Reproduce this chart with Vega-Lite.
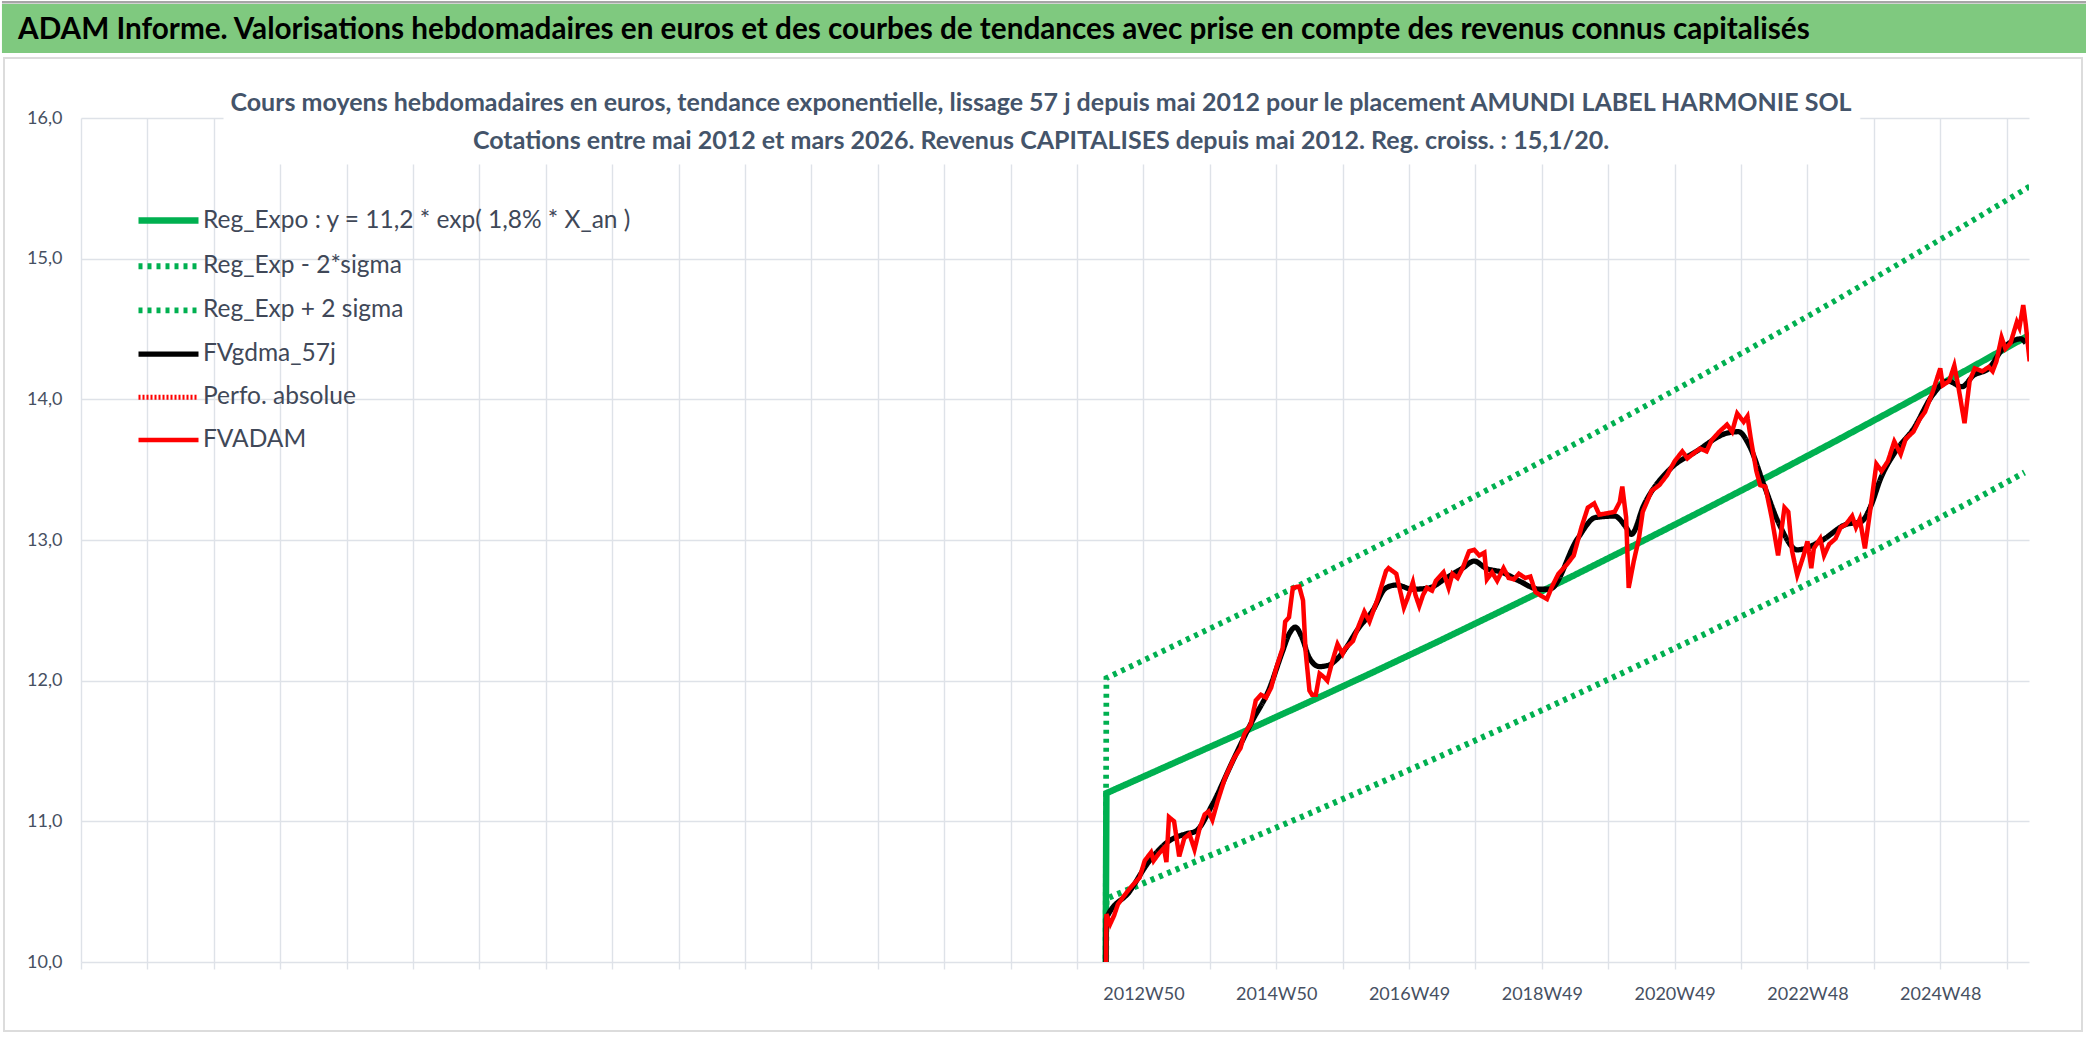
{
  "$schema": "https://vega.github.io/schema/vega-lite/v6.json",
  "padding": 0,
  "background": "white",
  "width": 1948,
  "height": 844,
  "config": {
    "font": "Lato",
    "view": {"stroke": null}
  },
  "datasets": {
    "series": [
      {"s": "reg", "k": 802, "v": 9.0}, {"s": "reg", "k": 803, "v": 11.2}, {"s": "reg", "k": 854, "v": 11.407}, {"s": "reg", "k": 906, "v": 11.618}, {"s": "reg", "k": 958, "v": 11.833}, {"s": "reg", "k": 1010, "v": 12.052}, {"s": "reg", "k": 1062, "v": 12.275}, {"s": "reg", "k": 1114, "v": 12.503}, {"s": "reg", "k": 1166, "v": 12.734}, {"s": "reg", "k": 1218, "v": 12.97}, {"s": "reg", "k": 1270, "v": 13.21}, {"s": "reg", "k": 1322, "v": 13.454}, {"s": "reg", "k": 1374, "v": 13.703}, {"s": "reg", "k": 1426, "v": 13.957}, {"s": "reg", "k": 1478, "v": 14.215}, {"s": "reg", "k": 1526, "v": 14.458},
      {"s": "hi", "k": 802, "v": 9.0}, {"s": "hi", "k": 803, "v": 12.018}, {"s": "hi", "k": 854, "v": 12.24}, {"s": "hi", "k": 906, "v": 12.466}, {"s": "hi", "k": 958, "v": 12.697}, {"s": "hi", "k": 1010, "v": 12.932}, {"s": "hi", "k": 1062, "v": 13.171}, {"s": "hi", "k": 1114, "v": 13.416}, {"s": "hi", "k": 1166, "v": 13.664}, {"s": "hi", "k": 1218, "v": 13.917}, {"s": "hi", "k": 1270, "v": 14.174}, {"s": "hi", "k": 1322, "v": 14.436}, {"s": "hi", "k": 1374, "v": 14.703}, {"s": "hi", "k": 1426, "v": 14.976}, {"s": "hi", "k": 1478, "v": 15.253}, {"s": "hi", "k": 1526, "v": 15.513},
      {"s": "lo", "k": 802, "v": 9.0}, {"s": "lo", "k": 803, "v": 10.45}, {"s": "lo", "k": 854, "v": 10.643}, {"s": "lo", "k": 906, "v": 10.84}, {"s": "lo", "k": 958, "v": 11.04}, {"s": "lo", "k": 1010, "v": 11.245}, {"s": "lo", "k": 1062, "v": 11.453}, {"s": "lo", "k": 1114, "v": 11.665}, {"s": "lo", "k": 1166, "v": 11.881}, {"s": "lo", "k": 1218, "v": 12.101}, {"s": "lo", "k": 1270, "v": 12.325}, {"s": "lo", "k": 1322, "v": 12.553}, {"s": "lo", "k": 1374, "v": 12.785}, {"s": "lo", "k": 1426, "v": 13.022}, {"s": "lo", "k": 1478, "v": 13.263}, {"s": "lo", "k": 1522, "v": 13.48},
      {"s": "gd", "k": 802, "v": 9.0}, {"s": "gd", "k": 803, "v": 10.31}, {"s": "gd", "k": 821, "v": 10.5}, {"s": "gd", "k": 836, "v": 10.71}, {"s": "gd", "k": 852, "v": 10.86}, {"s": "gd", "k": 865, "v": 10.91}, {"s": "gd", "k": 873, "v": 10.93}, {"s": "gd", "k": 886, "v": 11.12}, {"s": "gd", "k": 902, "v": 11.43}, {"s": "gd", "k": 917, "v": 11.71}, {"s": "gd", "k": 930, "v": 11.93}, {"s": "gd", "k": 941, "v": 12.21}, {"s": "gd", "k": 946, "v": 12.33}, {"s": "gd", "k": 951, "v": 12.38}, {"s": "gd", "k": 956, "v": 12.31}, {"s": "gd", "k": 962, "v": 12.16}, {"s": "gd", "k": 970, "v": 12.1}, {"s": "gd", "k": 977, "v": 12.11}, {"s": "gd", "k": 988, "v": 12.2}, {"s": "gd", "k": 1001, "v": 12.38}, {"s": "gd", "k": 1011, "v": 12.49}, {"s": "gd", "k": 1022, "v": 12.66}, {"s": "gd", "k": 1030, "v": 12.68}, {"s": "gd", "k": 1043, "v": 12.65}, {"s": "gd", "k": 1056, "v": 12.66}, {"s": "gd", "k": 1069, "v": 12.73}, {"s": "gd", "k": 1082, "v": 12.8}, {"s": "gd", "k": 1091, "v": 12.85}, {"s": "gd", "k": 1100, "v": 12.8}, {"s": "gd", "k": 1113, "v": 12.77}, {"s": "gd", "k": 1126, "v": 12.71}, {"s": "gd", "k": 1142, "v": 12.65}, {"s": "gd", "k": 1150, "v": 12.65}, {"s": "gd", "k": 1172, "v": 13.01}, {"s": "gd", "k": 1186, "v": 13.16}, {"s": "gd", "k": 1201, "v": 13.17}, {"s": "gd", "k": 1210, "v": 13.09}, {"s": "gd", "k": 1214, "v": 13.04}, {"s": "gd", "k": 1224, "v": 13.25}, {"s": "gd", "k": 1245, "v": 13.51}, {"s": "gd", "k": 1265, "v": 13.63}, {"s": "gd", "k": 1289, "v": 13.76}, {"s": "gd", "k": 1298, "v": 13.77}, {"s": "gd", "k": 1306, "v": 13.68}, {"s": "gd", "k": 1318, "v": 13.39}, {"s": "gd", "k": 1330, "v": 13.11}, {"s": "gd", "k": 1344, "v": 12.93}, {"s": "gd", "k": 1362, "v": 12.99}, {"s": "gd", "k": 1382, "v": 13.11}, {"s": "gd", "k": 1394, "v": 13.13}, {"s": "gd", "k": 1402, "v": 13.25}, {"s": "gd", "k": 1409, "v": 13.43}, {"s": "gd", "k": 1421, "v": 13.63}, {"s": "gd", "k": 1435, "v": 13.79}, {"s": "gd", "k": 1450, "v": 14.03}, {"s": "gd", "k": 1462, "v": 14.13}, {"s": "gd", "k": 1473, "v": 14.09}, {"s": "gd", "k": 1482, "v": 14.17}, {"s": "gd", "k": 1494, "v": 14.22}, {"s": "gd", "k": 1505, "v": 14.36}, {"s": "gd", "k": 1519, "v": 14.43}, {"s": "gd", "k": 1523, "v": 14.4},
      {"s": "fv", "k": 802, "v": 9.0}, {"s": "fv", "k": 803, "v": 10.34}, {"s": "fv", "k": 806, "v": 10.27}, {"s": "fv", "k": 809, "v": 10.33}, {"s": "fv", "k": 812, "v": 10.41}, {"s": "fv", "k": 816, "v": 10.46}, {"s": "fv", "k": 821, "v": 10.52}, {"s": "fv", "k": 825, "v": 10.56}, {"s": "fv", "k": 829, "v": 10.6}, {"s": "fv", "k": 833, "v": 10.72}, {"s": "fv", "k": 838, "v": 10.78}, {"s": "fv", "k": 840, "v": 10.72}, {"s": "fv", "k": 844, "v": 10.77}, {"s": "fv", "k": 848, "v": 10.81}, {"s": "fv", "k": 850, "v": 10.71}, {"s": "fv", "k": 852, "v": 11.03}, {"s": "fv", "k": 856, "v": 11.0}, {"s": "fv", "k": 860, "v": 10.75}, {"s": "fv", "k": 864, "v": 10.88}, {"s": "fv", "k": 868, "v": 10.91}, {"s": "fv", "k": 872, "v": 10.8}, {"s": "fv", "k": 876, "v": 10.95}, {"s": "fv", "k": 880, "v": 11.05}, {"s": "fv", "k": 883, "v": 11.07}, {"s": "fv", "k": 886, "v": 11.01}, {"s": "fv", "k": 890, "v": 11.14}, {"s": "fv", "k": 896, "v": 11.31}, {"s": "fv", "k": 903, "v": 11.45}, {"s": "fv", "k": 908, "v": 11.52}, {"s": "fv", "k": 911, "v": 11.62}, {"s": "fv", "k": 916, "v": 11.69}, {"s": "fv", "k": 920, "v": 11.86}, {"s": "fv", "k": 924, "v": 11.9}, {"s": "fv", "k": 928, "v": 11.88}, {"s": "fv", "k": 932, "v": 11.95}, {"s": "fv", "k": 936, "v": 12.09}, {"s": "fv", "k": 941, "v": 12.23}, {"s": "fv", "k": 943, "v": 12.42}, {"s": "fv", "k": 946, "v": 12.45}, {"s": "fv", "k": 949, "v": 12.66}, {"s": "fv", "k": 954, "v": 12.67}, {"s": "fv", "k": 957, "v": 12.57}, {"s": "fv", "k": 959, "v": 12.21}, {"s": "fv", "k": 962, "v": 11.93}, {"s": "fv", "k": 964, "v": 11.9}, {"s": "fv", "k": 967, "v": 11.9}, {"s": "fv", "k": 970, "v": 12.05}, {"s": "fv", "k": 974, "v": 12.02}, {"s": "fv", "k": 976, "v": 12.0}, {"s": "fv", "k": 980, "v": 12.14}, {"s": "fv", "k": 984, "v": 12.26}, {"s": "fv", "k": 988, "v": 12.19}, {"s": "fv", "k": 990, "v": 12.23}, {"s": "fv", "k": 996, "v": 12.28}, {"s": "fv", "k": 1001, "v": 12.4}, {"s": "fv", "k": 1005, "v": 12.49}, {"s": "fv", "k": 1009, "v": 12.42}, {"s": "fv", "k": 1015, "v": 12.57}, {"s": "fv", "k": 1022, "v": 12.78}, {"s": "fv", "k": 1024, "v": 12.8}, {"s": "fv", "k": 1030, "v": 12.76}, {"s": "fv", "k": 1032, "v": 12.68}, {"s": "fv", "k": 1036, "v": 12.52}, {"s": "fv", "k": 1039, "v": 12.59}, {"s": "fv", "k": 1043, "v": 12.7}, {"s": "fv", "k": 1045, "v": 12.61}, {"s": "fv", "k": 1048, "v": 12.53}, {"s": "fv", "k": 1051, "v": 12.61}, {"s": "fv", "k": 1054, "v": 12.66}, {"s": "fv", "k": 1058, "v": 12.64}, {"s": "fv", "k": 1061, "v": 12.71}, {"s": "fv", "k": 1067, "v": 12.77}, {"s": "fv", "k": 1071, "v": 12.66}, {"s": "fv", "k": 1074, "v": 12.76}, {"s": "fv", "k": 1078, "v": 12.73}, {"s": "fv", "k": 1082, "v": 12.8}, {"s": "fv", "k": 1087, "v": 12.92}, {"s": "fv", "k": 1091, "v": 12.93}, {"s": "fv", "k": 1095, "v": 12.89}, {"s": "fv", "k": 1099, "v": 12.91}, {"s": "fv", "k": 1101, "v": 12.72}, {"s": "fv", "k": 1105, "v": 12.77}, {"s": "fv", "k": 1109, "v": 12.71}, {"s": "fv", "k": 1114, "v": 12.8}, {"s": "fv", "k": 1118, "v": 12.73}, {"s": "fv", "k": 1122, "v": 12.72}, {"s": "fv", "k": 1126, "v": 12.76}, {"s": "fv", "k": 1131, "v": 12.73}, {"s": "fv", "k": 1135, "v": 12.74}, {"s": "fv", "k": 1139, "v": 12.63}, {"s": "fv", "k": 1144, "v": 12.6}, {"s": "fv", "k": 1148, "v": 12.58}, {"s": "fv", "k": 1152, "v": 12.67}, {"s": "fv", "k": 1157, "v": 12.76}, {"s": "fv", "k": 1164, "v": 12.83}, {"s": "fv", "k": 1169, "v": 12.89}, {"s": "fv", "k": 1175, "v": 13.09}, {"s": "fv", "k": 1180, "v": 13.23}, {"s": "fv", "k": 1185, "v": 13.26}, {"s": "fv", "k": 1189, "v": 13.18}, {"s": "fv", "k": 1195, "v": 13.19}, {"s": "fv", "k": 1201, "v": 13.2}, {"s": "fv", "k": 1205, "v": 13.27}, {"s": "fv", "k": 1207, "v": 13.38}, {"s": "fv", "k": 1210, "v": 13.16}, {"s": "fv", "k": 1212, "v": 12.66}, {"s": "fv", "k": 1216, "v": 12.85}, {"s": "fv", "k": 1220, "v": 13.01}, {"s": "fv", "k": 1223, "v": 13.2}, {"s": "fv", "k": 1230, "v": 13.35}, {"s": "fv", "k": 1236, "v": 13.39}, {"s": "fv", "k": 1242, "v": 13.46}, {"s": "fv", "k": 1248, "v": 13.56}, {"s": "fv", "k": 1254, "v": 13.63}, {"s": "fv", "k": 1258, "v": 13.58}, {"s": "fv", "k": 1262, "v": 13.61}, {"s": "fv", "k": 1268, "v": 13.65}, {"s": "fv", "k": 1273, "v": 13.63}, {"s": "fv", "k": 1277, "v": 13.71}, {"s": "fv", "k": 1283, "v": 13.77}, {"s": "fv", "k": 1289, "v": 13.82}, {"s": "fv", "k": 1293, "v": 13.77}, {"s": "fv", "k": 1297, "v": 13.9}, {"s": "fv", "k": 1302, "v": 13.84}, {"s": "fv", "k": 1305, "v": 13.88}, {"s": "fv", "k": 1308, "v": 13.7}, {"s": "fv", "k": 1312, "v": 13.49}, {"s": "fv", "k": 1315, "v": 13.39}, {"s": "fv", "k": 1319, "v": 13.38}, {"s": "fv", "k": 1324, "v": 13.16}, {"s": "fv", "k": 1329, "v": 12.89}, {"s": "fv", "k": 1334, "v": 13.23}, {"s": "fv", "k": 1337, "v": 13.2}, {"s": "fv", "k": 1340, "v": 12.92}, {"s": "fv", "k": 1344, "v": 12.75}, {"s": "fv", "k": 1349, "v": 12.89}, {"s": "fv", "k": 1352, "v": 12.99}, {"s": "fv", "k": 1355, "v": 12.8}, {"s": "fv", "k": 1357, "v": 12.94}, {"s": "fv", "k": 1362, "v": 13.01}, {"s": "fv", "k": 1365, "v": 12.89}, {"s": "fv", "k": 1369, "v": 12.97}, {"s": "fv", "k": 1374, "v": 13.01}, {"s": "fv", "k": 1378, "v": 13.09}, {"s": "fv", "k": 1382, "v": 13.11}, {"s": "fv", "k": 1387, "v": 13.17}, {"s": "fv", "k": 1390, "v": 13.09}, {"s": "fv", "k": 1393, "v": 13.15}, {"s": "fv", "k": 1397, "v": 12.94}, {"s": "fv", "k": 1401, "v": 13.2}, {"s": "fv", "k": 1406, "v": 13.54}, {"s": "fv", "k": 1410, "v": 13.49}, {"s": "fv", "k": 1415, "v": 13.56}, {"s": "fv", "k": 1420, "v": 13.7}, {"s": "fv", "k": 1425, "v": 13.61}, {"s": "fv", "k": 1429, "v": 13.72}, {"s": "fv", "k": 1435, "v": 13.77}, {"s": "fv", "k": 1440, "v": 13.86}, {"s": "fv", "k": 1444, "v": 13.91}, {"s": "fv", "k": 1450, "v": 14.05}, {"s": "fv", "k": 1456, "v": 14.22}, {"s": "fv", "k": 1458, "v": 14.1}, {"s": "fv", "k": 1463, "v": 14.13}, {"s": "fv", "k": 1467, "v": 14.24}, {"s": "fv", "k": 1470, "v": 14.1}, {"s": "fv", "k": 1475, "v": 13.83}, {"s": "fv", "k": 1479, "v": 14.13}, {"s": "fv", "k": 1483, "v": 14.22}, {"s": "fv", "k": 1489, "v": 14.2}, {"s": "fv", "k": 1494, "v": 14.23}, {"s": "fv", "k": 1497, "v": 14.2}, {"s": "fv", "k": 1500, "v": 14.27}, {"s": "fv", "k": 1504, "v": 14.44}, {"s": "fv", "k": 1507, "v": 14.36}, {"s": "fv", "k": 1511, "v": 14.4}, {"s": "fv", "k": 1516, "v": 14.55}, {"s": "fv", "k": 1518, "v": 14.51}, {"s": "fv", "k": 1521, "v": 14.67}, {"s": "fv", "k": 1523, "v": 14.53}, {"s": "fv", "k": 1526, "v": 14.27}
    ]
  },
  "data": {"name": "series"},
  "layer": [
    {
      "data": {"values": [{}]},
      "mark": {"type": "rect", "color": "#7FC97F"},
      "encoding": {
        "x": {"datum": -61.9, "type": "quantitative", "title": null},
        "x2": {"datum": 1571.8},
        "y": {"datum": 16.462, "type": "quantitative", "title": null},
        "y2": {"datum": 16.81}
      }
    },
    {
      "data": {"values": [{}]},
      "mark": {"type": "rule", "color": "#A6A6A6", "strokeWidth": 2.5},
      "encoding": {
        "x": {"datum": -61.9, "type": "quantitative", "title": null},
        "x2": {"datum": 1571.8},
        "y": {"datum": 16.823, "type": "quantitative", "title": null}
      }
    },
    {
      "data": {"values": [{}]},
      "mark": {"type": "rect", "fill": null, "filled": false, "stroke": "#DCDCDC", "strokeWidth": 2},
      "encoding": {
        "x": {"datum": -60.3, "type": "quantitative", "title": null},
        "x2": {"datum": 1567.0},
        "y": {"datum": 9.51, "type": "quantitative", "title": null},
        "y2": {"datum": 16.427}
      }
    },
    {
      "data": {"values": [{}]},
      "mark": {"type": "rect", "color": "white", "stroke": "white", "strokeWidth": 1},
      "encoding": {
        "x": {"datum": 112, "type": "quantitative", "title": null},
        "x2": {"datum": 1393},
        "y": {"datum": 15.673, "type": "quantitative", "title": null},
        "y2": {"datum": 16.015}
      }
    },
    {
      "data": {"values": [{}]},
      "mark": {"type": "text", "align": "left", "baseline": "middle", "font": "Lato", "fontSize": 29.7, "fontWeight": "bold", "color": "#000000"},
      "encoding": {
        "x": {"datum": -49.3, "type": "quantitative", "title": null},
        "y": {"datum": 16.626, "type": "quantitative", "title": null},
        "text": {"value": "ADAM Informe. Valorisations hebdomadaires en euros et des courbes de tendances avec prise en compte des revenus connus capitalisés"}
      }
    },
    {
      "data": {"values": [{}]},
      "mark": {"type": "text", "align": "center", "baseline": "middle", "font": "Lato", "fontSize": 25, "fontWeight": "bold", "color": "#44546A"},
      "encoding": {
        "x": {"datum": 751.8, "type": "quantitative", "title": null},
        "y": {"datum": 16.107, "type": "quantitative", "title": null},
        "text": {"value": "Cours moyens hebdomadaires en euros, tendance exponentielle, lissage 57 j depuis mai 2012 pour le placement AMUNDI LABEL HARMONIE SOL"}
      }
    },
    {
      "data": {"values": [{}]},
      "mark": {"type": "text", "align": "center", "baseline": "middle", "font": "Lato", "fontSize": 25, "fontWeight": "bold", "color": "#44546A"},
      "encoding": {
        "x": {"datum": 751.8, "type": "quantitative", "title": null},
        "y": {"datum": 15.836, "type": "quantitative", "title": null},
        "text": {"value": "Cotations entre mai 2012 et mars 2026. Revenus CAPITALISES depuis mai 2012. Reg. croiss. : 15,1/20."}
      }
    },
    {
      "transform": [{"filter": "datum.s == 'reg'"}],
      "mark": {"type": "line", "clip": true},
      "encoding": {
        "x": {
          "field": "k", "type": "quantitative", "title": null,
          "scale": {"domain": [0, 1525.5], "nice": false, "zero": false},
          "axis": {
            "title": null,
            "values": [0, 52, 104, 156, 208, 260, 312, 364, 416, 468, 520, 572, 624, 676, 728, 780, 832, 884, 936, 988, 1040, 1092, 1144, 1196, 1248, 1300, 1352, 1404, 1456, 1508],
            "labelExpr": "datum.value == 832 ? '2012W50' : datum.value == 936 ? '2014W50' : datum.value == 1040 ? '2016W49' : datum.value == 1144 ? '2018W49' : datum.value == 1248 ? '2020W49' : datum.value == 1352 ? '2022W48' : datum.value == 1456 ? '2024W48' : ''",
            "labelOverlap": false,
            "labelFlush": false,
            "labelFont": "Lato",
            "labelFontSize": 18,
            "labelColor": "#465062",
            "labelPadding": 16,
            "grid": true,
            "gridColor": "#DEE2E8",
            "gridWidth": 1.4,
            "ticks": true,
            "tickColor": "#DEE2E8",
            "tickWidth": 1.4,
            "tickSize": 7,
            "domain": false
          }
        },
        "y": {
          "field": "v", "type": "quantitative", "title": null,
          "scale": {"domain": [10, 16], "nice": false, "zero": false},
          "axis": {
            "title": null,
            "values": [10, 11, 12, 13, 14, 15, 16],
            "labelExpr": "replace(format(datum.value, '.1f'), '.', ',')",
            "labelFont": "Lato",
            "labelFontSize": 18,
            "labelColor": "#465062",
            "labelPadding": 19,
            "ticks": false,
            "tickSize": 0,
            "domain": false,
            "grid": true,
            "gridColor": "#DEE2E8",
            "gridWidth": 1.6
          }
        },
        "color": {
          "field": "s", "type": "nominal",
          "scale": {
            "domain": ["reg", "lo", "hi", "gd", "pa", "fv"],
            "range": ["#00B050", "#00B050", "#00B050", "#000000", "#FF0000", "#FF0000"]
          },
          "legend": {
            "title": null,
            "orient": "none",
            "legendX": 42,
            "legendY": 87,
            "padding": 0,
            "symbolType": "M0,0H5",
            "symbolSize": 576,
            "rowPadding": 16.7,
            "labelOffset": 49,
            "labelFont": "Lato",
            "labelFontSize": 24.5,
            "labelColor": "#404858",
            "labelLimit": 900,
            "labelExpr": "datum.value == 'reg' ? 'Reg_Expo : y = 11,2 * exp( 1,8% *  X_an )' : datum.value == 'lo' ? 'Reg_Exp - 2*sigma' : datum.value == 'hi' ? 'Reg_Exp + 2 sigma' : datum.value == 'gd' ? 'FVgdma_57j' : datum.value == 'pa' ? 'Perfo. absolue' : 'FVADAM'"
          }
        },
        "strokeDash": {
          "field": "s", "type": "nominal",
          "scale": {
            "domain": ["reg", "lo", "hi", "gd", "pa", "fv"],
            "range": [[1, 0], [4, 5], [4, 5], [1, 0], [2, 2], [1, 0]]
          },
          "legend": null
        },
        "strokeWidth": {
          "field": "s", "type": "nominal",
          "scale": {
            "domain": ["reg", "lo", "hi", "gd", "pa", "fv"],
            "range": [6.5, 4.5, 4.5, 5, 2.5, 5.5]
          },
          "legend": null
        }
      }
    },
    {
      "transform": [{"filter": "datum.s == 'lo' || datum.s == 'hi'"}],
      "mark": {"type": "line", "clip": true},
      "encoding": {
        "x": {"field": "k", "type": "quantitative", "title": null},
        "y": {"field": "v", "type": "quantitative", "title": null},
        "color": {"field": "s", "type": "nominal"},
        "strokeDash": {"field": "s", "type": "nominal"},
        "strokeWidth": {"field": "s", "type": "nominal"}
      }
    },
    {
      "transform": [{"filter": "datum.s == 'gd'"}],
      "mark": {"type": "line", "clip": true, "interpolate": "monotone"},
      "encoding": {
        "x": {"field": "k", "type": "quantitative", "title": null},
        "y": {"field": "v", "type": "quantitative", "title": null},
        "color": {"field": "s", "type": "nominal"},
        "strokeDash": {"field": "s", "type": "nominal"},
        "strokeWidth": {"field": "s", "type": "nominal"}
      }
    },
    {
      "transform": [{"filter": "datum.s == 'fv'"}],
      "mark": {"type": "line", "clip": true},
      "encoding": {
        "x": {"field": "k", "type": "quantitative", "title": null},
        "y": {"field": "v", "type": "quantitative", "title": null},
        "color": {"field": "s", "type": "nominal"},
        "strokeDash": {"field": "s", "type": "nominal"},
        "strokeWidth": {"field": "s", "type": "nominal"}
      }
    }
  ]
}
